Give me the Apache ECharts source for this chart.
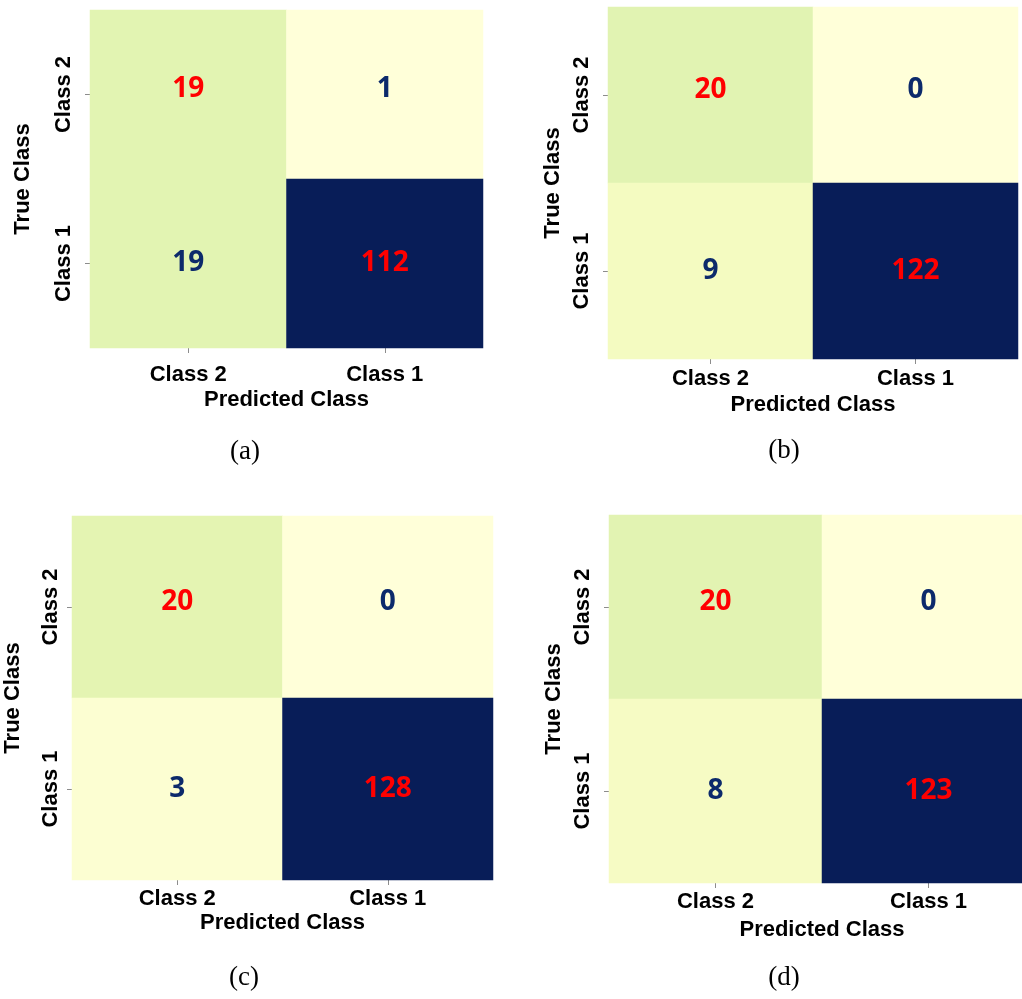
<!DOCTYPE html>
<html>
<head>
<meta charset="utf-8">
<script src="https://cdn.jsdelivr.net/npm/echarts@6/dist/echarts.min.js"></script>
<style>
  html, body { margin: 0; padding: 0; background: #ffffff; }
  #chart { width: 1022px; height: 999px; }
</style>
</head>
<body>
<div id="chart"></div>
<script>
// Four 2x2 confusion matrices (rows = true class, columns = predicted class)
const predictedClasses = ['Class 2', 'Class 1'];   // x axis, left to right
const trueClassesAxis = ['Class 1', 'Class 2'];    // y axis, bottom to top
const matrixRowClasses = ['Class 2', 'Class 1'];   // row order of each matrix
const panelCaptions = ['(a)', '(b)', '(c)', '(d)'];

// [[true C2 -> pred C2, pred C1], [true C1 -> pred C2, pred C1]]
const matrixA = [[19, 1], [19, 112]];
const matrixB = [[20, 0], [9, 122]];
const matrixC = [[20, 0], [3, 128]];
const matrixD = [[20, 0], [8, 123]];
const matrices = [matrixA, matrixB, matrixC, matrixD];

// YlGnBu sequential palette
const YLGNBU = ['#ffffd9', '#edf8b1', '#c7e9b4', '#7fcdbb', '#41b6c4',
                '#1d91c0', '#225ea8', '#253494', '#081d58'];

const CORRECT_COLOR = '#ff0000';
const WRONG_COLOR = '#0c2a6b';
const AXIS_FONT = 'Liberation Sans, Arial, sans-serif';

// panel placement
const panels = [
  { left: 90,  top: 10,  width: 393, height: 338, xMargin: 16, yMargin: 15, xNameGap: 41, yNameGap: 56, cap: [245, 452] },
  { left: 608, top: 7,   width: 410, height: 352, xMargin: 9,  yMargin: 15, xNameGap: 35, yNameGap: 44, cap: [784, 451] },
  { left: 72,  top: 516, width: 421, height: 364, xMargin: 8,  yMargin: 10, xNameGap: 32, yNameGap: 48, cap: [244, 978] },
  { left: 609, top: 515, width: 426, height: 368, xMargin: 8,  yMargin: 15, xNameGap: 36, yNameGap: 44, cap: [784, 978] }
];

const chart = echarts.init(document.getElementById('chart'), null, { renderer: 'canvas' });

const grid = [], xAxis = [], yAxis = [], series = [], visualMap = [], graphic = [];

matrices.forEach((m, i) => {
  const p = panels[i];
  grid.push({ left: p.left, top: p.top, width: p.width, height: p.height, outerBoundsMode: 'none' });

  const tickStyle = { show: true, alignWithLabel: true, length: 5, lineStyle: { color: '#8c8c8c', width: 1 } };

  xAxis.push({
    type: 'category', gridIndex: i, data: predictedClasses,
    axisLine: { show: false }, axisTick: tickStyle, splitArea: { show: false },
    axisLabel: { margin: p.xMargin, color: '#000', fontFamily: AXIS_FONT, fontWeight: 'bold', fontSize: 22 },
    name: 'Predicted Class', nameLocation: 'middle', nameGap: p.xNameGap, nameMoveOverlap: false,
    nameTextStyle: { color: '#000', fontFamily: AXIS_FONT, fontWeight: 'bold', fontSize: 22 }
  });

  yAxis.push({
    type: 'category', gridIndex: i, data: trueClassesAxis,
    axisLine: { show: false }, axisTick: tickStyle, splitArea: { show: false },
    axisLabel: { margin: p.yMargin, rotate: 90, color: '#000', fontFamily: AXIS_FONT, fontWeight: 'bold', fontSize: 22 },
    name: 'True Class', nameLocation: 'middle', nameGap: p.yNameGap, nameMoveOverlap: false,
    nameTextStyle: { color: '#000', fontFamily: AXIS_FONT, fontWeight: 'bold', fontSize: 22 }
  });

  const flat = m.flat();
  visualMap.push({
    type: 'continuous', show: false, seriesIndex: i,
    min: Math.min(...flat), max: Math.max(...flat),
    inRange: { color: YLGNBU }
  });

  const data = [];
  m.forEach((row, r) => {
    row.forEach((v, c) => {
      const isCorrect = matrixRowClasses[r] === predictedClasses[c];
      data.push({
        value: [predictedClasses[c], matrixRowClasses[r], v],
        label: {
          color: isCorrect ? CORRECT_COLOR : WRONG_COLOR,
          // annotations in the upper row sit slightly above the cell centre
          offset: r === 0 ? [0, -5] : [0, 0]
        }
      });
    });
  });

  series.push({
    type: 'heatmap', xAxisIndex: i, yAxisIndex: i, data,
    label: {
      show: true, fontFamily: 'Open Sans, Noto Sans, sans-serif', fontWeight: 'bold', fontSize: 28,
      formatter: (d) => String(d.value[2])
    },
    itemStyle: { borderWidth: 0 },
    emphasis: { disabled: true },
    silent: true
  });

  graphic.push({
    type: 'text', x: p.cap[0], y: p.cap[1],
    style: {
      text: panelCaptions[i], fill: '#000',
      font: '27px "Liberation Serif", "DejaVu Serif", serif',
      textAlign: 'center', textVerticalAlign: 'middle'
    }
  });
});

chart.setOption({
  backgroundColor: '#ffffff',
  animation: false,
  grid, xAxis, yAxis, visualMap, series, graphic
});
</script>
</body>
</html>
